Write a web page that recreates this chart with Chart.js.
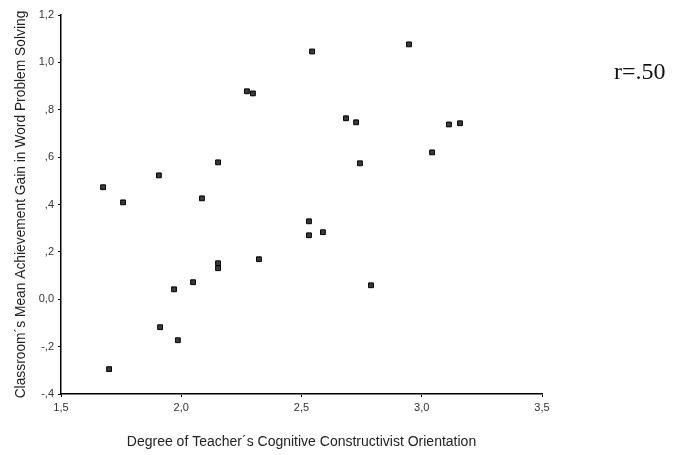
<!DOCTYPE html>
<html>
<head>
<meta charset="utf-8">
<script src="https://cdn.jsdelivr.net/npm/chart.js@4.4.0/dist/chart.umd.min.js"></script>
<style>
  html, body { margin: 0; padding: 0; background: #fff; }
  #wrap { width: 675px; height: 455px; }
</style>
</head>
<body>
<div id="wrap"><canvas id="myChart" width="675" height="455"></canvas></div>
<script>
// teacher orientation (x) vs mean achievement gain (y)
const orientation = [1.675, 1.758, 1.70, 1.907, 1.912, 1.970, 1.986, 2.049, 2.086, 2.153,
  2.153, 2.153, 2.273, 2.298, 2.323, 2.544, 2.531, 2.531, 2.589, 2.685,
  2.727, 2.743, 2.789, 2.947, 3.043, 3.113, 3.159];
const gain = [0.473, 0.409, -0.295, 0.523, -0.118, 0.042, -0.173, 0.072, 0.426, 0.578,
  0.152, 0.131, 0.878, 0.869, 0.169, 1.046, 0.329, 0.270, 0.283, 0.764,
  0.747, 0.574, 0.059, 1.076, 0.620, 0.738, 0.743];
const xTicks = [1.5, 2.0, 2.5, 3.0, 3.5];
const yTicks = [-0.4, -0.2, 0.0, 0.2, 0.4, 0.6, 0.8, 1.0, 1.2];
const corrLabel = 'r=.50';

// SPSS style numbers: comma decimal, no leading zero below 1
function spss(v) {
  const s = Math.abs(v).toFixed(1).replace('.', ',');
  const t = Math.abs(v) < 1 && Math.abs(v) > 1e-9 ? s.slice(1) : s;
  return (v < -1e-9 ? '-' : '') + t;
}

const points = orientation.map((x, i) => ({ x: x, y: gain[i] }));

const corrText = {
  id: 'corrText',
  afterDraw(chart) {
    const ctx = chart.ctx;
    ctx.save();
    ctx.fillStyle = '#111';
    ctx.font = '24px "Liberation Serif", "Times New Roman", serif';
    ctx.textBaseline = 'alphabetic';
    ctx.fillText(corrLabel, 614, 79);
    ctx.restore();
  }
};

const ctx = document.getElementById('myChart').getContext('2d');
const myChart = new Chart(ctx, {
  type: 'scatter',
  data: {
    datasets: [{
      data: points,
      pointStyle: 'rect',
      pointRadius: 3.4,
      backgroundColor: '#3a3a3a',
      borderColor: '#000',
      borderWidth: 1,
    }],
  },
  options: {
    responsive: false,
    animation: false,
    layout: { padding: { top: 15, right: 133, left: 0, bottom: 0 } },
    plugins: { legend: { display: false }, tooltip: { enabled: false } },
    scales: {
      x: {
        type: 'linear',
        min: 1.5,
        max: 3.5,
        afterBuildTicks(scale) { scale.ticks = xTicks.map(v => ({ value: v })); },
        afterFit(scale) { scale.height = 61; },
        border: { color: '#000', width: 1.5 },
        grid: { drawOnChartArea: false, color: '#000', tickLength: 3 },
        ticks: {
          color: '#333',
          font: { family: 'Liberation Sans, Arial, sans-serif', size: 11 },
          padding: 4,
          callback: v => spss(v),
        },
        title: {
          display: true,
          text: 'Degree of Teacher´s Cognitive Constructivist Orientation',
          color: '#222',
          font: { family: 'Liberation Sans, Arial, sans-serif', size: 14 },
          padding: { top: 10 },
        },
      },
      y: {
        min: -0.4,
        max: 1.2,
        afterBuildTicks(scale) { scale.ticks = yTicks.map(v => ({ value: v })); },
        afterFit(scale) { scale.width = 61; },
        border: { color: '#000', width: 1.5 },
        grid: { drawOnChartArea: false, color: '#000', tickLength: 3 },
        ticks: {
          color: '#333',
          font: { family: 'Liberation Sans, Arial, sans-serif', size: 11 },
          padding: 4,
          callback: v => spss(v),
        },
        title: {
          display: true,
          text: 'Classroom´s Mean Achievement Gain in Word Problem Solving',
          color: '#222',
          font: { family: 'Liberation Sans, Arial, sans-serif', size: 13.8 },
          padding: { top: 13, bottom: 0 },
        },
      },
    },
  },
  plugins: [corrText],
});
</script>
</body>
</html>
